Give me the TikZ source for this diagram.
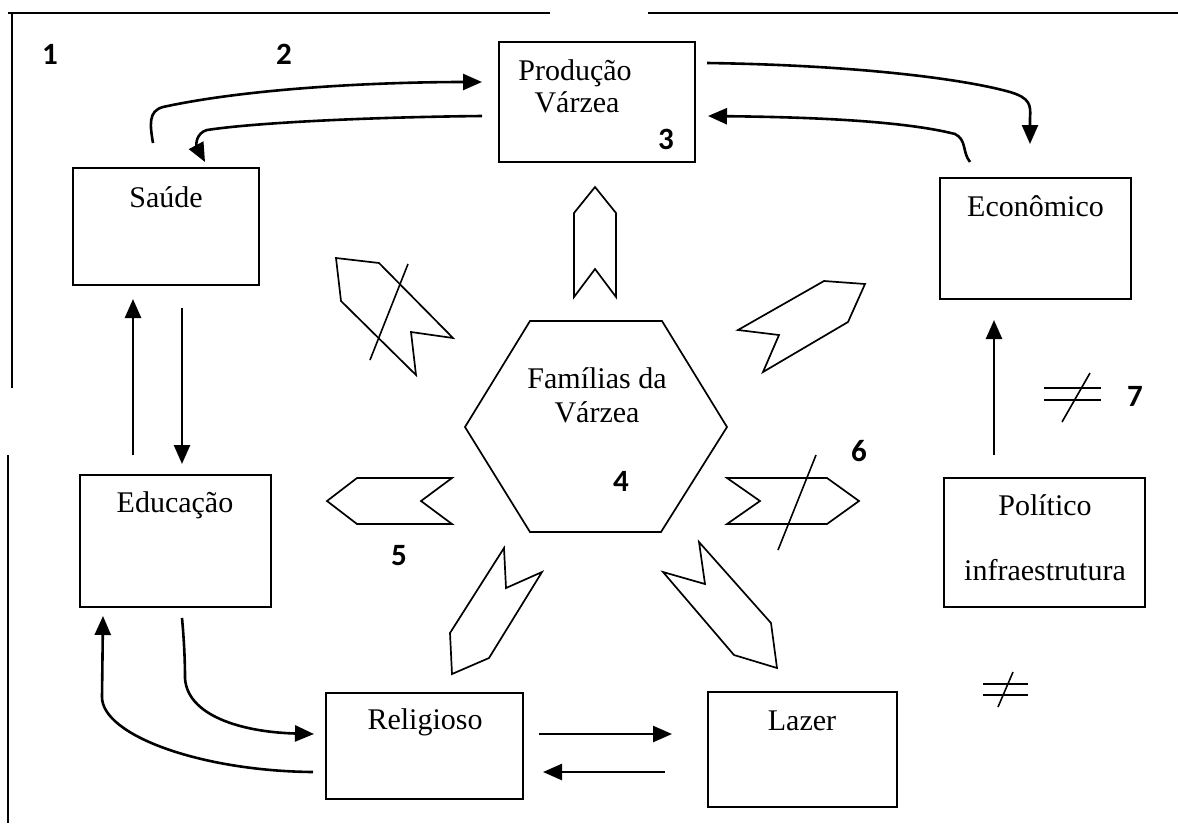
\documentclass[tikz,border=0pt]{standalone}
\usepackage{fontspec}
\setmainfont{Liberation Serif}
\newfontfamily\numfont{Carlito}
\usetikzlibrary{arrows.meta,calc}
\tikzset{
  box/.style={draw, line width=2pt, inner sep=0pt},
  lbl/.style={font=\fontsize{30}{32}\selectfont, inner sep=0pt, anchor=base},
  num/.style={font=\numfont\bfseries\fontsize{31}{33}\selectfont, inner sep=0pt, anchor=base},
  conn/.style={line width=2.6pt, -{Triangle[length=19pt,width=16pt]}},
  frame/.style={line width=2pt},
  shp/.style={draw, line width=1.7pt, line join=miter},
  strike/.style={line width=1.6pt},
}
\begin{document}
\begin{tikzpicture}[x=1pt,y=-1pt]
\useasboundingbox (0,0) rectangle (1178,823);
% frame lines
\draw[frame] (8,13) -- (550,13);
\draw[frame] (648,13) -- (1178,13);
\draw[frame] (12,12) -- (12,388);
\draw[frame] (8,455) -- (8,823);
% boxes
\node[box, minimum width=196pt, minimum height=120pt] (prod)  at (597,102) {};
\node[box, minimum width=186pt, minimum height=117pt] (saude) at (166,226.5) {};
\node[box, minimum width=191pt, minimum height=121pt] (econ)  at (1035.5,238.5) {};
\node[box, minimum width=191pt, minimum height=132pt] (educ)  at (175.5,541) {};
\node[box, minimum width=197pt, minimum height=106pt] (relig) at (424.5,746) {};
\node[box, minimum width=189pt, minimum height=115pt] (lazer) at (802.5,749.5) {};
\node[box, minimum width=201pt, minimum height=129pt] (polit) at (1044.5,542.5) {};
% labels
\node[lbl] (tprod1) at (575,80) {Produção};
\node[lbl] (tprod2) at (577,112) {Várzea};
\node[lbl] (tsaude) at (166,207) {Saúde};
\node[lbl] (tecon)  at (1035.5,216) {Econômico};
\node[lbl] (teduc)  at (175,512) {Educação};
\node[lbl] (trelig) at (425,729) {Religioso};
\node[lbl] (tlazer) at (802,730) {Lazer};
\node[lbl] (tpol1)  at (1045,515) {Político};
\node[lbl] (tpol2)  at (1045,580) {infraestrutura};
% hexagon
\draw[shp] (530,321) -- (662,321) -- (727,427) -- (661,532) -- (530,532) -- (465,427) -- cycle;
\node[lbl] (tfam1) at (597,388) {Famílias da};
\node[lbl] (tfam2) at (597,422) {Várzea};
% numbers
\node[num] (n1) at (50,64) {1};
\node[num] (n2) at (284,64) {2};
\node[num] (n3) at (666,149) {3};
\node[num] (n4) at (621,491) {4};
\node[num] (n5) at (399,565) {5};
\node[num] (n6) at (859,461) {6};
\node[num] (n7) at (1135,406) {7};
% block arrows
\draw[shp] (595,187) -- (616,213) -- (616,297) -- (595,269) -- (574,297) -- (574,213) -- cycle;
\draw[shp] (336,258) -- (379,263) -- (453,338) -- (411,332) -- (416,375) -- (341,301) -- cycle;
\draw[strike] (408,264) -- (370,360);
\draw[shp] (738,330) -- (779,335) -- (763,372) -- (848,322) -- (865,284) -- (824,281) -- cycle;
\draw[shp] (452,478) -- (357,478) -- (327,501) -- (357,524) -- (452,524) -- (421,501) -- cycle;
\draw[shp] (727,478) -- (827,478) -- (859,501) -- (827,524) -- (727,524) -- (760,501) -- cycle;
\draw[strike] (816,455) -- (778,550);
\draw[shp] (504,548) -- (506,588) -- (542,572) -- (489,658) -- (452,674) -- (450,633) -- cycle;
\draw[shp] (699,542) -- (705,584) -- (663,572) -- (734,655) -- (777,668) -- (771,623) -- cycle;
% not-equal signs
\draw[strike] (1044,388) -- (1101,388);
\draw[strike] (1044,400) -- (1101,400);
\draw[strike] (1090,373) -- (1062,422);
\draw[strike] (983,684) -- (1028,684);
\draw[strike] (983,695) -- (1028,695);
\draw[strike] (1013,672) -- (998,707);
% connector end points
\coordinate (a1s) at (153,143);  \coordinate (a1e) at (482,82);
\coordinate (a2s) at (482,116);  \coordinate (a2e) at (205,162);
\coordinate (a3s) at (707,63);   \coordinate (a3e) at (1030,144);
\coordinate (a4s) at (970,162);  \coordinate (a4e) at (708,116);
\coordinate (a5s) at (133,455);  \coordinate (a5e) at (133,299);
\coordinate (a6s) at (182,308);  \coordinate (a6e) at (182,464);
\coordinate (a7s) at (994,455);  \coordinate (a7e) at (994,320);
\coordinate (a8s) at (182,618);  \coordinate (a8e) at (314,734);
\coordinate (a9s) at (313,772);  \coordinate (a9e) at (103,616);
\coordinate (a10s) at (539,734); \coordinate (a10e) at (672,734);
\coordinate (a11s) at (665,772); \coordinate (a11e) at (543,772);
% connectors
\draw[conn] (a1s) .. controls (150,125) and (148,111) .. (163,107) .. controls (250,88) and (380,82) .. (a1e);
\draw[conn] (a2s) .. controls (380,117) and (260,122) .. (207,130) .. controls (196,133) and (196,145) .. (a2e);
\draw[conn] (a3s) .. controls (850,65) and (960,78) .. (1010,92) .. controls (1030,98) and (1031,105) .. (1030,118) -- (a3e);
\draw[conn] (a4s) .. controls (962,152) and (967,140) .. (955,134) .. controls (900,120) and (800,117) .. (a4e);
\draw[conn] (a5s) -- (a5e);
\draw[conn] (a6s) -- (a6e);
\draw[conn] (a7s) -- (a7e);
\draw[conn] (a8s) .. controls (184,640) and (185,660) .. (185,678) .. controls (187,715) and (240,732) .. (a8e);
\draw[conn] (a9s) .. controls (200,771) and (102,735) .. (102,697) -- (a9e);
\draw[conn] (a10s) -- (a10e);
\draw[conn] (a11s) -- (a11e);
\end{tikzpicture}
\end{document}
